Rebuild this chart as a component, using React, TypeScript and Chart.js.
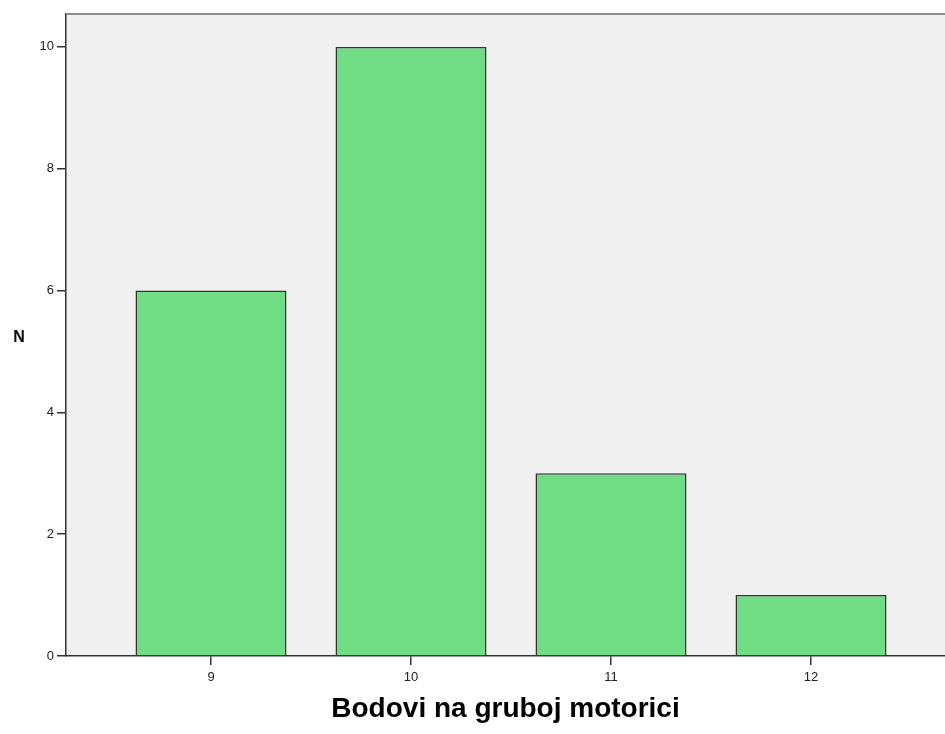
import React, { useEffect, useRef } from "react";
import { Chart, registerables } from "chart.js";

Chart.register(...registerables);

const categories = [9, 10, 11, 12];
const counts = [6, 10, 3, 1];
const yTicks = [0, 2, 4, 6, 8, 10];
const xTitle = "Bodovi na gruboj motorici";
const yTitle = "N";

const FONT = "'Liberation Sans', Arial, sans-serif";

const bgPlugin = {
  id: "plotBg",
  beforeDraw(chart: any) {
    const { ctx, chartArea } = chart;
    ctx.save();
    ctx.fillStyle = "#F0F0F0";
    ctx.fillRect(chartArea.left, chartArea.top, chartArea.right - chartArea.left, chartArea.bottom - chartArea.top);
    ctx.restore();
  },
  afterDraw(chart: any) {
    const { ctx, chartArea } = chart;
    ctx.save();
    ctx.strokeStyle = "#8a8a8a";
    ctx.lineWidth = 2;
    ctx.beginPath();
    ctx.moveTo(chartArea.left, chartArea.top);
    ctx.lineTo(chartArea.right, chartArea.top);
    ctx.stroke();
    ctx.fillStyle = "#000";
    ctx.font = `bold 16px ${FONT}`;
    ctx.textAlign = "center";
    ctx.textBaseline = "middle";
    ctx.fillText(yTitle, 19, 338);
    ctx.restore();
  },
};

export default function App() {
  const ref = useRef<HTMLCanvasElement | null>(null);
  useEffect(() => {
    if (!ref.current) return;
    const chart = new Chart(ref.current, {
      type: "bar",
      data: {
        datasets: [
          {
            data: categories.map((c, i) => ({ x: c, y: counts[i] })),
            backgroundColor: "#70DC84",
            borderColor: "#333333",
            borderWidth: 1.5,
            barPercentage: 0.755,
            categoryPercentage: 1,
          },
        ],
      },
      options: {
        animation: false,
        responsive: false,
        devicePixelRatio: 1,
        layout: { padding: { top: 14, left: 0, right: 0, bottom: 0 } },
        plugins: { legend: { display: false }, tooltip: { enabled: false } },
        scales: {
          x: {
            type: "linear",
            offset: false,
            min: 8.275,
            max: 12.67,
            afterFit: (s: any) => {
              s.height = 78;
            },
            afterBuildTicks: (s: any) => {
              s.ticks = categories.map((v) => ({ value: v }));
            },
            grid: { offset: false, drawOnChartArea: false, drawTicks: true, tickLength: 9, color: "#333", lineWidth: 1.5 },
            border: { display: true, color: "#333", width: 1.5 },
            ticks: { font: { family: FONT, size: 13 }, color: "#222", padding: 5 },
            title: {
              display: true,
              text: xTitle,
              font: { family: FONT, size: 28, weight: "bold" },
              color: "#000",
              padding: { top: 0, bottom: 8 },
            },
          },
          y: {
            type: "linear",
            min: 0,
            max: 10.54,
            afterFit: (s: any) => {
              s.width = 66;
            },
            afterBuildTicks: (s: any) => {
              s.ticks = yTicks.map((v) => ({ value: v }));
            },
            grid: { drawOnChartArea: false, drawTicks: true, tickLength: 9, color: "#333", lineWidth: 1.5 },
            border: { display: true, color: "#333", width: 1.5 },
            ticks: { font: { family: FONT, size: 13 }, color: "#222", padding: 3 },
          },
        },
      },
      plugins: [bgPlugin],
    });
    return () => chart.destroy();
  }, []);
  return (
    <div style={{ position: "fixed", left: 0, top: 0, width: 945, height: 734, background: "#fff" }}>
      <canvas ref={ref} width={945} height={734} style={{ width: 945, height: 734 }} />
    </div>
  );
}
